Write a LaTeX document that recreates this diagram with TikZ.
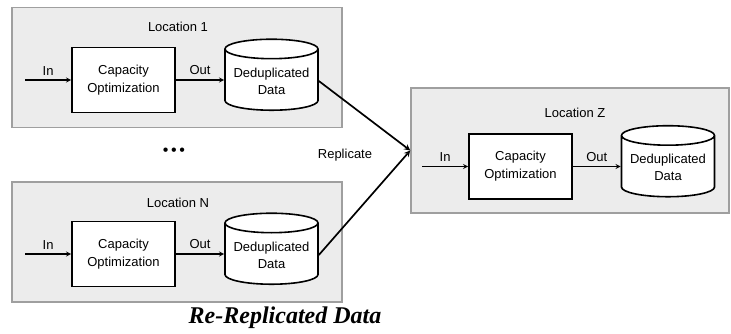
\documentclass[tikz,border=0pt]{standalone}
\usepackage{fontspec}
\setmainfont{Liberation Sans}
\newfontfamily\captionfont{Liberation Serif}
\usetikzlibrary{shapes.geometric, arrows}
\usetikzlibrary{positioning}
\tikzstyle{site} = [rectangle, draw=gray!75, fill=gray!15, line width=1.5pt, minimum width=330pt, minimum height=120pt]
\tikzstyle{optbox} = [rectangle, draw=black, fill=white, line width=1.6pt, text centered, align=center, minimum width=103pt, minimum height=65pt, font=\fontsize{13}{18}\selectfont]
\tikzstyle{datastore} = [cylinder, shape border rotate=90, aspect=0.25, draw=black, fill=white, line width=1.6pt, align=center, minimum width=93pt, minimum height=71pt, inner sep=1pt, font=\fontsize{13}{17}\selectfont]
\tikzstyle{flow} = [line width=1.3pt, ->, >=stealth]
\tikzstyle{replication} = [line width=1.7pt, ->, >=stealth]
\tikzstyle{tag} = [font=\fontsize{13}{15}\selectfont]

\begin{document}
\begin{tikzpicture}[x=1pt, y=-1pt]

    \useasboundingbox (0,0) rectangle (731,334);

    % the three sites
    \node (loc1) [site] at (177,67.5) {};
    \node (locn) [site] at (177,242) {};
    \node (locz) [site, minimum width=318pt, minimum height=125pt] at (570,150.5) {};

    \node (title1) [tag] at (178,27) {Location 1};
    \node (titlen) [tag] at (178,203) {Location N};
    \node (titlez) [tag] at (575,113) {Location Z};

    % location 1
    \node (opt1) [optbox] at (123.5,80) {Capacity\\Optimization};
    \node (data1) [datastore] at (271.5,81) {Deduplicated\\Data};
    \coordinate (in1) at (25,80);

    % location n
    \node (optn) [optbox] at (123.5,254) {Capacity\\Optimization};
    \node (datan) [datastore] at (271.5,255) {Deduplicated\\Data};
    \coordinate (inn) at (25,254);

    % location z
    \node (optz) [optbox] at (520.5,166.5) {Capacity\\Optimization};
    \node (dataz) [datastore] at (668,167.5) {Deduplicated\\Data};
    \coordinate (inz) at (422,166.5);

    \draw [flow] (in1) -- node [tag, above=1pt] {In} (opt1);
    \draw [flow] (opt1) -- node [tag, above=1pt] {Out} (data1.west |- opt1);
    \draw [flow] (inn) -- node [tag, above=1pt] {In} (optn);
    \draw [flow] (optn) -- node [tag, above=1pt] {Out} (datan.west |- optn);
    \draw [flow] (inz) -- node [tag, above=1pt] {In} (optz);
    \draw [flow] (optz) -- node [tag, above=1pt] {Out} (dataz.west |- optz);

    % replication
    \node (dots) [font=\fontsize{16}{16}\selectfont] at (174,152) {\textbullet\,\textbullet\,\textbullet};
    \node (replicate) [tag] at (345,155) {Replicate};
    \draw [replication] (data1.east) -- (locz.west);
    \draw [replication] (datan.east) -- (locz.west);

    \node (caption) [font=\captionfont\fontsize{24}{26}\selectfont\bfseries\itshape] at (285,318) {Re-Replicated Data};

\end{tikzpicture}
\end{document}
